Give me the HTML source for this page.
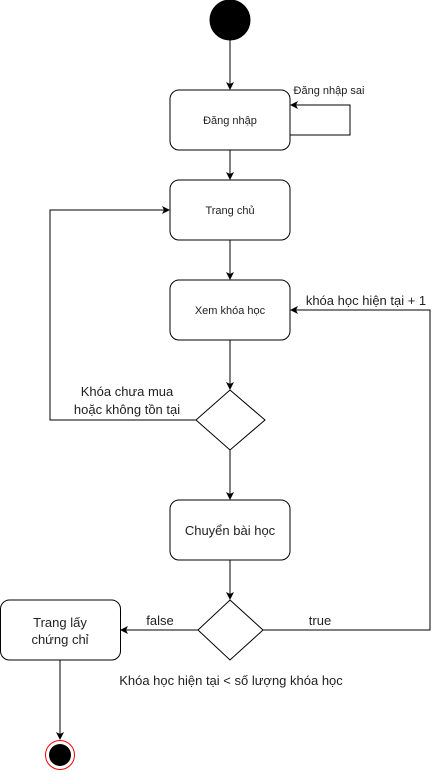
<!DOCTYPE html>
<html><head><style>body{margin:0;background:#fff}</style></head><body>
<svg width="441" height="771" xmlns="http://www.w3.org/2000/svg" font-family="Liberation Sans, sans-serif">
<defs><marker id="a" markerWidth="8" markerHeight="8" refX="7" refY="4" orient="auto" markerUnits="userSpaceOnUse"><path d="M0,0 L8,4 L0,8 L2,4 z" fill="#000"/></marker></defs>
<g stroke="#000" fill="none" stroke-width="1">
<circle cx="230" cy="20" r="20" fill="#000"/>
<line x1="230" y1="40" x2="230" y2="89" marker-end="url(#a)"/>
<rect x="170" y="90" width="120" height="60" rx="9" fill="#fff"/>
<polyline points="290,135 350,135 350,105 291,105" marker-end="url(#a)"/>
<line x1="230" y1="150" x2="230" y2="179" marker-end="url(#a)"/>
<rect x="170" y="180" width="120" height="60" rx="9" fill="#fff"/>
<line x1="230" y1="240" x2="230" y2="279" marker-end="url(#a)"/>
<rect x="170" y="280" width="120" height="60" rx="9" fill="#fff"/>
<line x1="230" y1="340" x2="230" y2="389" marker-end="url(#a)"/>
<polygon points="230,390 265,420 230,450 196,420" fill="#fff"/>
<polyline points="196,420 50,420 50,210 169,210" marker-end="url(#a)"/>
<line x1="230" y1="450" x2="230" y2="499" marker-end="url(#a)"/>
<rect x="170" y="500" width="120" height="60" rx="9" fill="#fff"/>
<line x1="230" y1="560" x2="230" y2="599" marker-end="url(#a)"/>
<polygon points="230,600 263,630 230,660 198,630" fill="#fff"/>
<polyline points="263,630 430,630 430,310 291,310" marker-end="url(#a)"/>
<line x1="198" y1="630" x2="121" y2="630" marker-end="url(#a)"/>
<rect x="0.5" y="600" width="120" height="60" rx="9" fill="#fff"/>
<line x1="60" y1="660" x2="60" y2="739" marker-end="url(#a)"/>
<circle cx="60" cy="755" r="14.5" stroke="#f00" fill="#fff"/>
<circle cx="60" cy="755" r="11" fill="#000" stroke="none"/>
</g>
<g fill="#222" text-anchor="middle">
<text x="230" y="124" font-size="11">Đăng nhập</text>
<text x="230" y="214" font-size="11">Trang chủ</text>
<text x="230" y="314" font-size="11">Xem khóa học</text>
<text x="230" y="535" font-size="13">Chuyển bài học</text>
<text x="60" y="627" font-size="13">Trang lấy</text>
<text x="60" y="644" font-size="13">chứng chỉ</text>
<text x="329" y="94" font-size="11">Đăng nhập sai</text>
<text x="366" y="305" font-size="13">khóa học hiện tại + 1</text>
<text x="127" y="396" font-size="13">Khóa chưa mua</text>
<text x="127" y="414" font-size="13">hoặc không tồn tại</text>
<text x="160" y="625" font-size="13">false</text>
<text x="320" y="625" font-size="13">true</text>
<text x="231" y="685" font-size="13">Khóa học hiện tại &lt; số lượng khóa học</text>
</g>
</svg>
</body></html>
